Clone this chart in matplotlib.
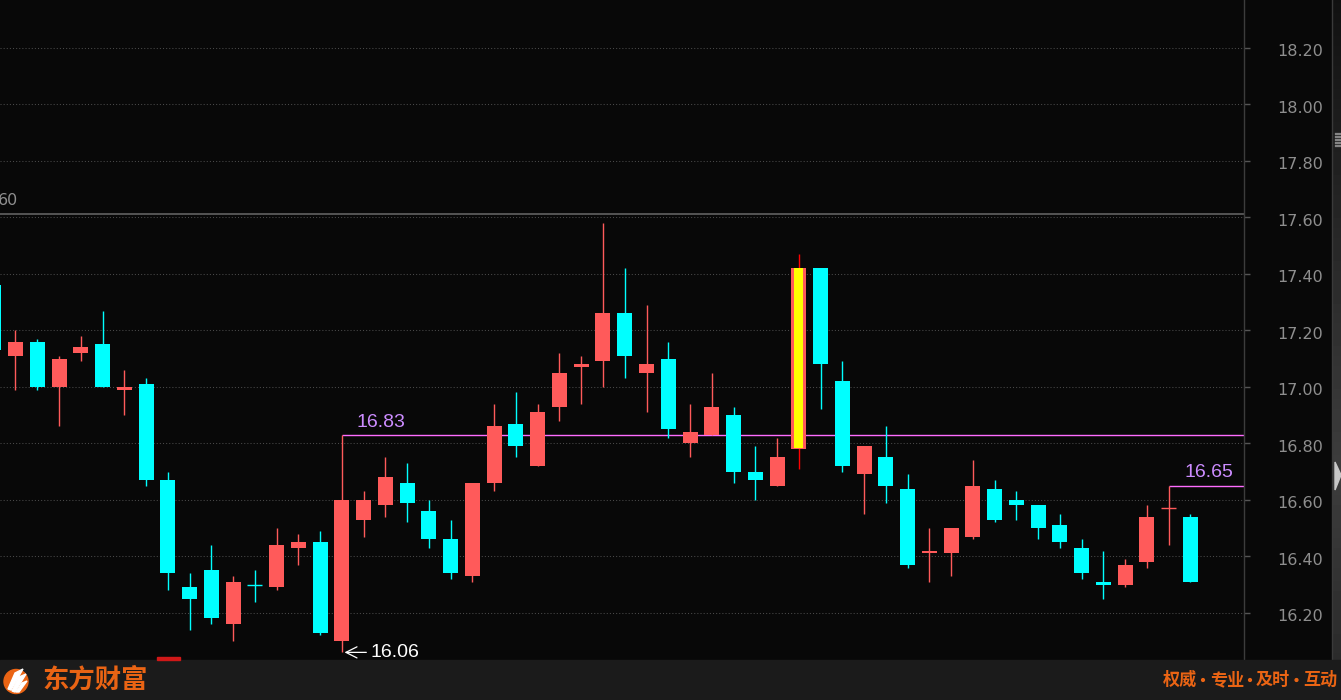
import numpy as np
import matplotlib
matplotlib.use("Agg")
import matplotlib.pyplot as plt
from matplotlib.patches import Rectangle, Circle, Polygon
from matplotlib.transforms import ScaledTranslation

# ---------------- data ----------------
opens  = [17.36, 17.11, 17.16, 17.00, 17.12, 17.15, 16.99, 17.01, 16.67, 16.29,
          16.35, 16.16, 16.30, 16.29, 16.43, 16.45, 16.10, 16.53, 16.58, 16.66,
          16.56, 16.46, 16.33, 16.66, 16.87, 16.72, 16.93, 17.07, 17.09, 17.26,
          17.05, 17.10, 16.80, 16.83, 16.90, 16.70, 16.65, 16.78, 17.42, 17.02,
          16.69, 16.75, 16.64, 16.41, 16.41, 16.47, 16.64, 16.60, 16.58, 16.51,
          16.43, 16.31, 16.30, 16.38, 16.57, 16.54]
highs  = [17.36, 17.20, 17.17, 17.11, 17.18, 17.27, 17.06, 17.03, 16.70, 16.34,
          16.44, 16.33, 16.35, 16.50, 16.48, 16.49, 16.83, 16.63, 16.75, 16.73,
          16.60, 16.53, 16.66, 16.94, 16.98, 16.94, 17.12, 17.11, 17.58, 17.42,
          17.29, 17.16, 16.94, 17.05, 16.93, 16.79, 16.82, 17.47, 17.42, 17.09,
          16.79, 16.86, 16.69, 16.50, 16.50, 16.74, 16.67, 16.63, 16.58, 16.55,
          16.46, 16.42, 16.39, 16.58, 16.65, 16.55]
lows   = [17.13, 16.99, 16.99, 16.86, 17.09, 17.00, 16.90, 16.65, 16.28, 16.14,
          16.16, 16.10, 16.24, 16.28, 16.37, 16.12, 16.06, 16.47, 16.54, 16.52,
          16.43, 16.32, 16.31, 16.63, 16.75, 16.72, 16.88, 16.94, 17.00, 17.03,
          16.91, 16.82, 16.75, 16.83, 16.66, 16.60, 16.65, 16.71, 16.92, 16.70,
          16.55, 16.59, 16.36, 16.31, 16.33, 16.46, 16.52, 16.53, 16.46, 16.43,
          16.32, 16.25, 16.29, 16.36, 16.44, 16.31]
closes = [17.13, 17.16, 17.00, 17.10, 17.14, 17.00, 17.00, 16.67, 16.34, 16.25,
          16.18, 16.31, 16.30, 16.44, 16.45, 16.13, 16.60, 16.60, 16.68, 16.59,
          16.46, 16.34, 16.66, 16.86, 16.79, 16.91, 17.05, 17.08, 17.26, 17.11,
          17.08, 16.85, 16.84, 16.93, 16.70, 16.67, 16.75, 17.42, 17.08, 16.72,
          16.79, 16.65, 16.37, 16.42, 16.50, 16.65, 16.53, 16.58, 16.50, 16.45,
          16.34, 16.30, 16.37, 16.54, 16.57, 16.31]
y_ticks = [16.20, 16.40, 16.60, 16.80, 17.00, 17.20, 17.40, 17.60, 17.80, 18.00, 18.20]
tick_labels = ["16.20", "16.40", "16.60", "16.80", "17.00", "17.20", "17.40",
               "17.60", "17.80", "18.00", "18.20"]
highlight_idx = 37          # selected candle
max_mark_idx = 16           # candle carrying 16.83 / 16.06 marks
last_mark_idx = 54          # candle carrying 16.65 mark
ref_line_price = 17.612     # grey horizontal line
ref_line_label = "60"
slogan_parts = ["权威", "专业", "及时", "互动"]

# ---------------- style ----------------
W, H = 1341, 700
BG = "#080808"
RED = "#ff5a5a"
CYAN = "#00ffff"
MAG = "#ff6cff"
TXT_MAG = "#cc8cff"
ORANGE = "#ea6414"

plt.rcParams["font.family"] = ["DejaVu Sans", "Noto Sans CJK SC"]

fig = plt.figure(figsize=(W / 100, H / 100), dpi=100, facecolor=BG)

ax = fig.add_axes([0, 40 / H, 1244 / W, 660 / H])
ax.set_facecolor(BG)
n = len(opens)
x = np.arange(n)
ax.set_xlim(0.288, 57.46)
ax.set_ylim(16.033, 18.369)

o = np.array(opens); c = np.array(closes); hi = np.array(highs); lo = np.array(lows)
prev_c = np.concatenate([[o[0]], c[:-1]])
up = (c > o) | ((c == o) & (c >= prev_c))
cols = [RED if u else CYAN for u in up]
wick_cols = list(cols)
wick_cols[highlight_idx] = "#ff0000"

bw = 15 / 21.76
ax.vlines(x, lo, hi, colors=wick_cols, linewidth=1.0, zorder=3)
body_h = np.abs(c - o)
bottom = np.minimum(o, c)
flat = body_h < 1e-6
ax.bar(x[~flat], body_h[~flat], bottom=bottom[~flat], width=bw,
       color=[cols[i] for i in x[~flat]], linewidth=0, zorder=4)
ax.hlines(c[flat], x[flat] - bw / 2, x[flat] + bw / 2,
          colors=[cols[i] for i in x[flat]], linewidth=1.0, zorder=4)

# highlighted candle: yellow fill inside red frame
k = highlight_idx
ax.bar([k], [body_h[k] - 0.004], bottom=[bottom[k] + 0.004], width=bw * 0.6,
       color="#ffff00", linewidth=0, zorder=5)

# grid + axis
ax.set_yticks(y_ticks)
ax.set_yticklabels(tick_labels)
ax.yaxis.tick_right()
ax.tick_params(axis="y", color="#555555", length=4, width=1, pad=20,
               labelsize=11.5, labelcolor="#8e8e8e")
shift = ScaledTranslation(0, -2.5 / 100, fig.dpi_scale_trans)
for lbl in ax.get_yticklabels():
    lbl.set_transform(lbl.get_transform() + shift)
ax.set_xticks([])
ax.grid(axis="y", color="#4a4a4a", linestyle=(0, (1, 2)), linewidth=0.75)
ax.set_axisbelow(True)
for s in ["top", "left", "bottom"]:
    ax.spines[s].set_visible(False)
ax.spines["right"].set_color("#3c3c3c")
ax.spines["right"].set_linewidth(1)

# grey reference line
ax.axhline(ref_line_price, color="#5a5a5a", linewidth=1.3, zorder=2)

# max mark
m = max_mark_idx
ax.hlines(hi[m], m, 57.46, colors=MAG, linewidth=1.0, zorder=2)
ax.annotate(f"{hi[m]:.2f}", xy=(m, hi[m]), xytext=(15, 12), textcoords="offset pixels",
            color=TXT_MAG, fontsize=14, family="Liberation Sans",
            ha="left", va="center", annotation_clip=False)
# min mark
ax.annotate(f"{lo[m]:.2f}", xy=(m + 0.12, lo[m]), xytext=(26, 0), textcoords="offset pixels",
            color="white", fontsize=14, family="Liberation Sans",
            ha="left", va="center", annotation_clip=False,
            arrowprops=dict(arrowstyle="->,head_length=0.8,head_width=0.4",
                            mutation_scale=10, color="white", lw=0.9,
                            shrinkA=1, shrinkB=0))
# last mark
q = last_mark_idx
ax.hlines(hi[q], q, 57.46, colors=MAG, linewidth=1.0, zorder=2)
ax.annotate(f"{hi[q]:.2f}", xy=(q, hi[q]), xytext=(16, 13), textcoords="offset pixels",
            color=TXT_MAG, fontsize=14, family="Liberation Sans",
            ha="left", va="center", annotation_clip=False)

# ---------------- overlay (pixel coords) ----------------
ov = fig.add_axes([0, 0, 1, 1], zorder=10)
ov.set_xlim(0, W); ov.set_ylim(H, 0); ov.axis("off"); ov.patch.set_alpha(0)

ov.text(18, 200.5, ref_line_label, ha="right", va="center", fontsize=11.5, color="#8e8e8e")

# right strip
ov.plot([1332, 1332], [0, 660], color="#3a3a3a", lw=1)
yy = np.linspace(0, 660, 200)
g = np.interp(yy, [0, 470, 660], [0.07, 0.24, 0.17])
ov.imshow(g[:, None], cmap="gray", vmin=0, vmax=1, extent=(1333, 1341, 660, 0),
          aspect="auto", zorder=1)
ov.add_patch(Polygon([(1335, 462), (1341, 475), (1335, 490)], closed=True,
                     color="#c8c8c8", zorder=3))
for gx in (1335.5, 1337.5, 1339.5):
    for gy in (133, 136, 139, 142, 145):
        ov.add_patch(Rectangle((gx, gy), 1, 1, color="#8a8a8a", zorder=3))

# red bottom marker
ov.add_patch(Rectangle((157, 657), 23, 3, color="#d01818", zorder=3))

# bottom bar
ov.add_patch(Rectangle((0, 660), W, 40, color="#1b1b1b", zorder=2))
ov.add_patch(Circle((16, 681.5), 12, color=ORANGE, zorder=3))
for pts in ([(8, 689), (15, 673), (23, 669), (11, 690)],
            [(12, 691), (19, 677), (26, 674), (15, 692)],
            [(16, 692), (22, 683), (27, 681), (19, 692)]):
    ov.add_patch(Polygon(pts, closed=True, color="white", zorder=4))
ov.text(42, 680.5, "东方财富", ha="left", va="center", fontsize=19, weight="bold",
        color=ORANGE, family=["Noto Sans CJK SC", "DejaVu Sans"], zorder=4)

# slogan: word groups separated by small centered dots
seg_starts = [1163, 1210, 1256, 1303]
for sx, word in zip(seg_starts, slogan_parts):
    ov.text(sx, 680, word, ha="left", va="center", fontsize=12.3, weight="bold",
            color=ORANGE, family=["Noto Sans CJK SC", "DejaVu Sans"], zorder=4)
for dx in (1203, 1250, 1296.5):
    ov.add_patch(Circle((dx, 680), 1.4, color=ORANGE, zorder=4))

fig.savefig("out.png", dpi=100, facecolor=BG)
